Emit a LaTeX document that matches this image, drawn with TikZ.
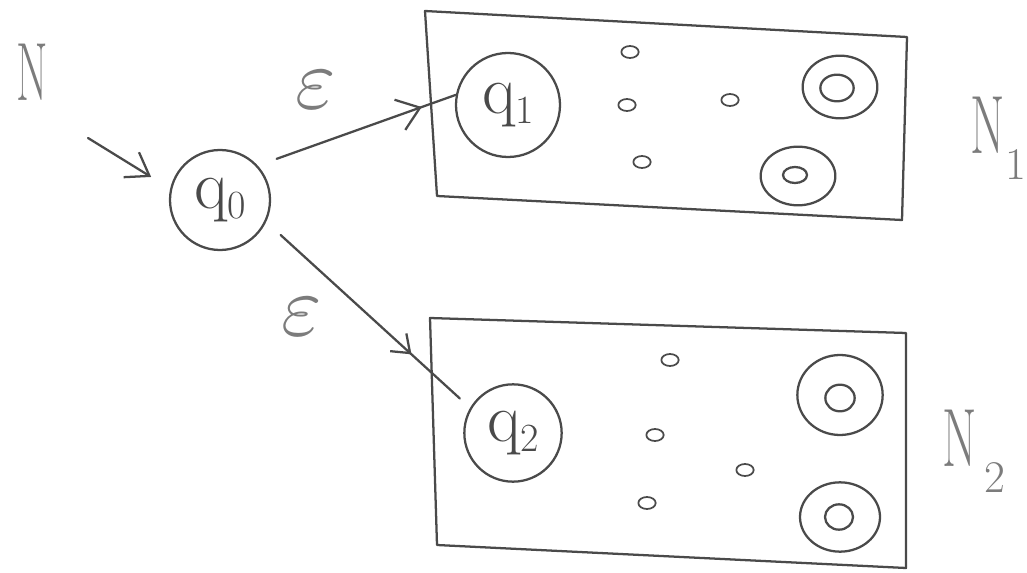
\documentclass[tikz,border=0pt]{standalone}
\usetikzlibrary{arrows.meta,shapes.geometric,decorations.markings}
\definecolor{ink}{HTML}{4A4A4A}
\definecolor{softink}{HTML}{7C7C7C}
\newcommand{\qsub}[1]{q\raisebox{-0.15em}{\fontsize{30}{30}\selectfont #1}}
\begin{document}
\begin{tikzpicture}[x=0.75pt,y=-0.75pt,
  pen/.style={draw=ink, line width=1.7pt, line cap=round, line join=round},
  state/.style={circle, pen, inner sep=0pt, text=ink, font=\fontsize{52}{52}\selectfont},
  tiny/.style={ellipse, pen, line width=1.3pt, minimum width=13pt, minimum height=9pt, inner sep=0pt},
  acc/.style={ellipse, pen, inner sep=0pt},
  lbl/.style={text=softink, inner sep=0pt, font=\fontsize{62}{62}\selectfont},
  eps/.style={text=softink, inner sep=0pt},
  bigtip/.style={decoration={markings, mark=at position #1 with {\arrow[ink, line width=1.7pt]{Straight Barb[length=16pt,width=24pt]}}}, postaction=decorate},
  smalltip/.style={decoration={markings, mark=at position #1 with {\arrow[ink, line width=1.7pt]{Straight Barb[length=12pt,width=18pt]}}}, postaction=decorate}
]
\useasboundingbox[fill=white] (0,0) rectangle (1027,573);

% label of the whole automaton
\node[lbl] (nlabel) at (32,72) {\scalebox{0.55}[1]{N}};

% start state
\node[state, minimum size=75pt, outer sep=15pt] (q0) at (220,200) {\qsub{0}};
\coordinate (init) at (88,138);
\draw[pen, -{Straight Barb[length=16pt,width=22pt]}, shorten >=2pt] (init) -- (q0.162);

% box N1
\coordinate (b1a) at (425,11);
\coordinate (b1b) at (907,37);
\coordinate (b1c) at (902,220);
\coordinate (b1d) at (437,196);
\draw[pen] (b1a) -- (b1b) -- (b1c) -- (b1d) -- cycle;

\node[state, minimum size=78pt] (q1) at (508,105) {\qsub{1}};
\node[tiny] (s11) at (630,52) {};
\node[tiny] (s12) at (627,105) {};
\node[tiny] (s13) at (730,100) {};
\node[tiny] (s14) at (642,162) {};
\node[acc, minimum width=56pt, minimum height=47pt] (f11) at (840,87) {};
\node[acc, minimum width=25pt, minimum height=20pt] (f11i) at (837,88) {};
\node[acc, minimum width=56pt, minimum height=44pt] (f12) at (798,176) {};
\node[acc, minimum width=18pt, minimum height=12pt] (f12i) at (795,175) {};
\node[lbl] (n1) at (988,125) {\scalebox{0.6}[1]{N}};
\node[lbl, font=\fontsize{34}{34}\selectfont] (n1s) at (1016,165) {1};

% box N2
\coordinate (b2a) at (430,318);
\coordinate (b2b) at (906,333);
\coordinate (b2c) at (906,568);
\coordinate (b2d) at (437,545);
\draw[pen] (b2a) -- (b2b) -- (b2c) -- (b2d) -- cycle;

\node[state, minimum size=73pt, outer sep=11pt] (q2) at (513,433) {\qsub{2}};
\node[tiny] (s21) at (670,360) {};
\node[tiny] (s22) at (655,435) {};
\node[tiny] (s23) at (745,470) {};
\node[tiny] (s24) at (647,503) {};
\node[acc, minimum width=64pt, minimum height=60pt] (f21) at (840,395) {};
\node[acc, minimum width=22pt, minimum height=20pt] (f21i) at (840,398) {};
\node[acc, minimum width=60pt, minimum height=52pt] (f22) at (840,517) {};
\node[acc, minimum width=21pt, minimum height=19pt] (f22i) at (839,517) {};
\node[lbl] (n2) at (960,438) {\scalebox{0.6}[1]{N}};
\node[lbl, font=\fontsize{34}{34}\selectfont] (n2s) at (995,478) {2};

% epsilon transitions
\draw[pen, bigtip=0.81] (q0.36) -- (q1.169);
\node[eps] (e1) at (316,90) {\scalebox{6.5}{$\varepsilon$}};
\draw[pen, smalltip=0.73] (q0.-30) -- (q2.147);
\node[eps] (e2) at (302,317) {\scalebox{6.5}{$\varepsilon$}};
\end{tikzpicture}
\end{document}
